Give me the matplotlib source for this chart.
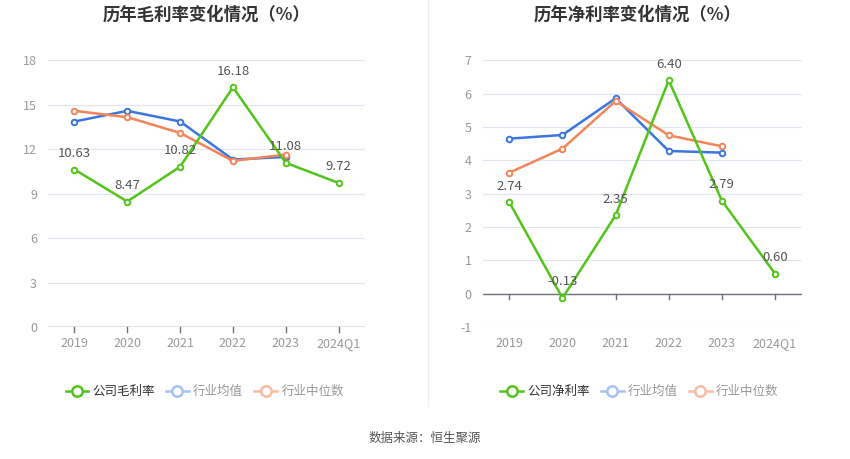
import matplotlib
matplotlib.use("Agg")
import matplotlib.pyplot as plt
from matplotlib.lines import Line2D

plt.rcParams['font.family'] = ['Noto Sans CJK SC', 'DejaVu Sans']

categories = ["2019", "2020", "2021", "2022", "2023", "2024Q1"]

gross_company = [10.63, 8.47, 10.82, 16.18, 11.08, 9.72]
gross_mean = [13.87, 14.59, 13.87, 11.30, 11.48]
gross_median = [14.59, 14.16, 13.10, 11.21, 11.64]

net_company = [2.74, -0.13, 2.35, 6.40, 2.79, 0.60]
net_mean = [4.65, 4.76, 5.86, 4.28, 4.23]
net_median = [3.63, 4.35, 5.78, 4.75, 4.42]

GREEN = "#52c41a"
BLUE = "#3a75e0"
ORANGE = "#f5845a"
BLUE_L = "#a6c1f5"
ORANGE_L = "#f9bba4"

fig = plt.figure(figsize=(8.5, 4.59), dpi=100)

def draw(ax, comp, mean, median, ylim, yticks, title, comp_name, title_x):
    x = list(range(len(categories)))
    for yt in yticks:
        ax.axhline(yt, color="#e0e6f1", lw=0.8, zorder=0)
    ax.axhline(0, color="#6e7079", lw=1, zorder=1)
    ax.plot(x[:len(mean)], mean, color=BLUE, lw=1.8, marker='o', ms=4,
            mfc='white', mec=BLUE, mew=1.4, zorder=3)
    ax.plot(x[:len(median)], median, color=ORANGE, lw=1.8, marker='o', ms=4,
            mfc='white', mec=ORANGE, mew=1.4, zorder=3)
    ax.plot(x, comp, color=GREEN, lw=1.8, marker='o', ms=4,
            mfc='white', mec=GREEN, mew=1.4, zorder=4)
    for xi, v in zip(x, comp):
        ax.annotate(f"{v:.2f}", (xi, v), xytext=(0, 7), textcoords='offset points',
                    ha='center', va='bottom', fontsize=9.5, color="#555555", zorder=5)
    ax.set_xlim(-0.5, len(categories) - 0.5)
    ax.set_ylim(*ylim)
    ax.set_yticks(yticks)
    ax.set_yticklabels([str(t) for t in yticks], fontsize=9, color="#999999")
    ax.set_xticks(x)
    ax.set_xticklabels(categories, fontsize=9, color="#999999")
    for s in ax.spines.values():
        s.set_visible(False)
    ax.tick_params(axis='y', length=0, pad=8)
    ax.tick_params(axis='x', length=0, pad=7)
    ax.patch.set_alpha(0)
    fig.text(title_x, 0.967, title, ha='center', va='center', fontsize=12.5,
             fontweight='bold', color="#333333")
    handles = [
        Line2D([], [], color=GREEN, lw=1.8, marker='o', ms=7.5, mfc='white', mec=GREEN, mew=1.8),
        Line2D([], [], color=BLUE_L, lw=1.8, marker='o', ms=7.5, mfc='white', mec=BLUE_L, mew=1.8),
        Line2D([], [], color=ORANGE_L, lw=1.8, marker='o', ms=7.5, mfc='white', mec=ORANGE_L, mew=1.8),
    ]
    leg = ax.legend(handles, [comp_name, "行业均值", "行业中位数"], loc='upper left',
                    bbox_to_anchor=(0.02, -0.175), ncol=3, frameon=False, fontsize=9,
                    handlelength=1.8, columnspacing=0.9, handletextpad=0.35)
    cols = ["#333333", "#999999", "#999999"]
    for t, c in zip(leg.get_texts(), cols):
        t.set_color(c)

ax1 = fig.add_axes([0.0565, 0.2876, 0.373, 0.581])
draw(ax1, gross_company, gross_mean, gross_median, (0, 18), [0, 3, 6, 9, 12, 15, 18],
     "历年毛利率变化情况（%）", "公司毛利率", 0.243)

ax2 = fig.add_axes([0.568, 0.2876, 0.375, 0.581])
draw(ax2, net_company, net_mean, net_median, (-1, 7), [-1, 0, 1, 2, 3, 4, 5, 6, 7],
     "历年净利率变化情况（%）", "公司净利率", 0.75)

# x tick marks below zero line
for ax, span in ((ax1, 18), (ax2, 8)):
    for xi in range(len(categories)):
        ax.plot([xi, xi], [0, -span * 0.02], color="#6e7079", lw=1, clip_on=False, zorder=1)

fig.add_artist(Line2D([0.503, 0.503], [0.115, 1.0], color="#eeeeee", lw=1))
fig.text(0.5, 0.045, "数据来源：恒生聚源", ha='center', va='center', fontsize=9, color="#555555")

fig.savefig("out.png", dpi=100)
